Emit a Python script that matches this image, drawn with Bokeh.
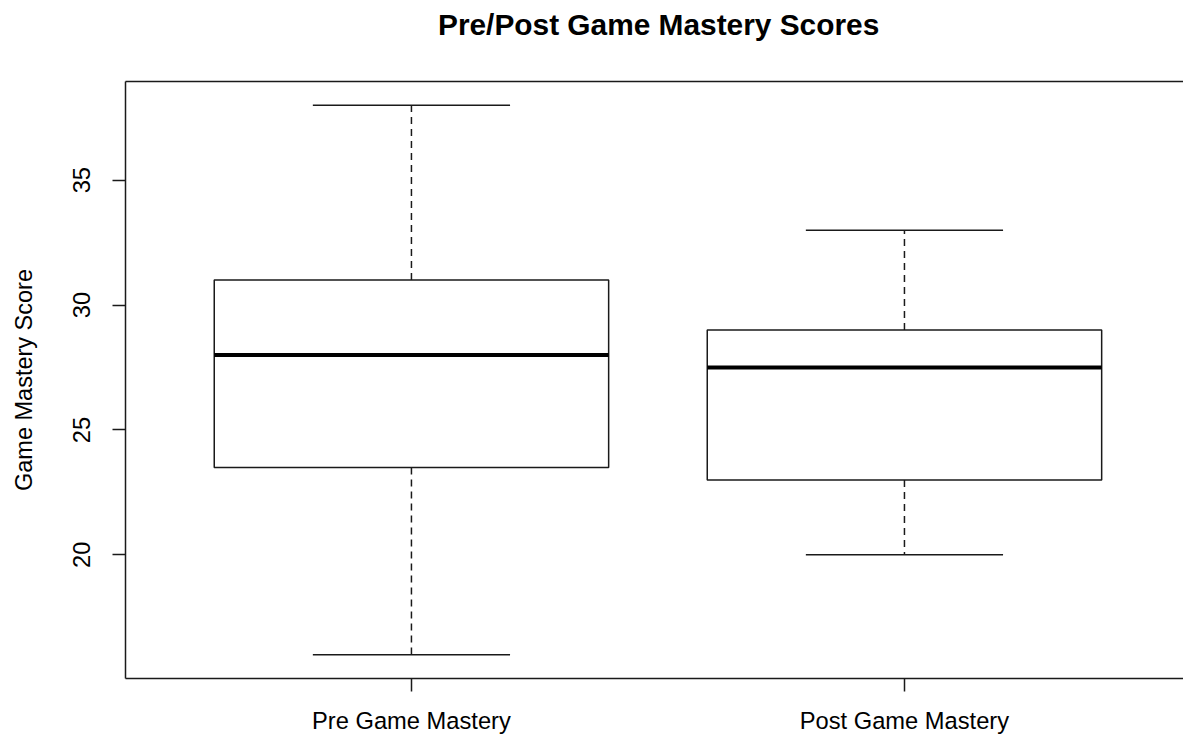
from bokeh.plotting import figure
from bokeh.models import FixedTicker, LinearAxis, Range1d, ColumnDataSource
from bokeh.embed import file_html
from bokeh.resources import INLINE

# ---- data ----
categories = ["Pre Game Mastery", "Post Game Mastery"]
whisker_low = [16, 20]
q1 = [23.5, 23]
median = [28, 27.5]
q3 = [31, 29]
whisker_high = [38, 33]
y_ticks = [20, 25, 30, 35]

positions = [i + 1 for i in range(len(categories))]
box_half = 0.4
cap_half = 0.2

src = ColumnDataSource(dict(
    x=positions,
    left=[x - box_half for x in positions],
    right=[x + box_half for x in positions],
    cap_l=[x - cap_half for x in positions],
    cap_r=[x + cap_half for x in positions],
    lo=whisker_low, q1=q1, med=median, q3=q3, hi=whisker_high,
))

FONT = "Liberation Sans"
LC = "#1a1a1a"

p = figure(width=1183, height=739, output_backend="svg", toolbar_location=None,
           x_range=Range1d(0.42, 2.566), y_range=Range1d(15.05, 38.95),
           min_border_left=125, min_border_right=0, min_border_top=81,
           min_border_bottom=61)
p.outline_line_color = None
p.background_fill_color = "white"
p.border_fill_color = "white"
p.xgrid.visible = False
p.ygrid.visible = False

p.title.text = "Pre/Post Game Mastery Scores"
p.title.text_font = FONT
p.title.text_font_size = "29.85px"
p.title.text_font_style = "bold"
p.title.text_color = "black"
p.title.align = "left"
p.title.offset = 312.5
p.title.standoff = 0

# whiskers (dashed)
p.segment(x0="x", y0="q3", x1="x", y1="hi", source=src, line_color=LC,
          line_width=1.5, line_dash="7 5")
p.segment(x0="x", y0="q1", x1="x", y1="lo", source=src, line_color=LC,
          line_width=1.5, line_dash="7 5")
# caps
p.segment(x0="cap_l", y0="hi", x1="cap_r", y1="hi", source=src, line_color=LC, line_width=1.5)
p.segment(x0="cap_l", y0="lo", x1="cap_r", y1="lo", source=src, line_color=LC, line_width=1.5)
# boxes
p.quad(left="left", right="right", bottom="q1", top="q3", source=src,
       fill_color="white", line_color=LC, line_width=1.5)
# medians
p.segment(x0="left", y0="med", x1="right", y1="med", source=src, line_color="black", line_width=4)

# axes
for ax in (p.xaxis[0], p.yaxis[0]):
    ax.axis_line_color = LC
    ax.axis_line_width = 1.5
    ax.major_tick_line_color = LC
    ax.major_tick_line_width = 1.5
    ax.major_tick_out = 13
    ax.major_tick_in = 0
    ax.minor_tick_line_color = None
    ax.major_label_text_font = FONT
    ax.major_label_text_font_size = "23.7px"
    ax.major_label_text_color = "black"
    ax.axis_label_text_font = FONT
    ax.axis_label_text_font_size = "23.5px"
    ax.axis_label_text_font_style = "normal"
    ax.axis_label_text_color = "black"

p.xaxis.ticker = FixedTicker(ticks=positions)
p.xaxis.major_label_overrides = {pos: cat for pos, cat in zip(positions, categories)}
p.xaxis.major_label_standoff = 16

p.yaxis.ticker = FixedTicker(ticks=y_ticks)
p.yaxis.major_label_orientation = "vertical"
p.yaxis.major_label_standoff = 22
p.yaxis.axis_label = "Game Mastery Score"
p.yaxis.axis_label_standoff = 34

# top frame line; an invisible tick keeps the title away from the frame
top = LinearAxis(axis_line_color=LC, axis_line_width=1.5,
                 major_tick_line_color=None, minor_tick_line_color=None,
                 major_tick_out=41, major_tick_in=0,
                 major_label_standoff=0,
                 major_label_text_font_size="0px",
                 major_label_overrides={positions[0]: ""},
                 ticker=FixedTicker(ticks=[positions[0]]))
p.add_layout(top, "above")

open("out.html", "w").write(file_html(p, INLINE))
